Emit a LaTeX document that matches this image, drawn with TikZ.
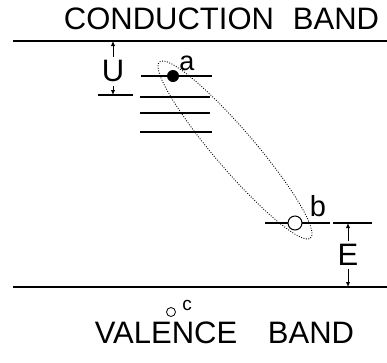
\documentclass[tikz,border=0pt]{standalone}
\usepackage{fontspec}
\setmainfont{Liberation Sans}
\usetikzlibrary{arrows.meta}
\begin{document}
\begin{tikzpicture}[x={(1pt,0)},y={(0,-1pt)},
  band/.style={line width=1.3pt},
  level/.style={line width=1.6pt},
  dimarrow/.style={line width=1pt,-{Latex[length=5pt,width=4.5pt]}},
  tick/.style={line width=1.1pt},
  orbit/.style={line width=0.9pt,dash pattern=on 0.9pt off 1.6pt},
  big/.style={inner sep=0,font=\fontsize{31}{31}\selectfont},
  lab/.style={inner sep=0,font=\fontsize{27}{27}\selectfont},
]
\useasboundingbox (0,0) rectangle (387,362);
% bands
\coordinate (cbL) at (13,41); \coordinate (cbR) at (387,41);
\coordinate (vbL) at (13,287); \coordinate (vbR) at (387,287);
\draw[band] (cbL) -- (cbR);
\draw[band] (vbL) -- (vbR);
\node[big] (cond) at (169,19) {CONDUCTION};
\node[big] (cband) at (336,19) {BAND};
\node[big] (val) at (166,333) {VALENCE};
\node[big] (vband) at (311,333) {BAND};
% U dimension
\coordinate (ut) at (113,41);
\coordinate (ub) at (113,95);
\node[big] (U) at (113,71) {U};
\draw[dimarrow] (U.north) ++(0,-3) coordinate (u1) (u1) -- (ut);
\draw[dimarrow] (U.south) ++(0,4) coordinate (u2) (u2) -- (ub);
\coordinate (ubL) at (98,95); \coordinate (ubR) at (133,95);
\draw[tick] (ubL) -- (ubR);
% levels
\coordinate (l1a) at (141,76); \coordinate (l1b) at (212,76);
\coordinate (l2a) at (140,97); \coordinate (l2b) at (210,97);
\coordinate (l3a) at (140,113); \coordinate (l3b) at (210,113);
\coordinate (l4a) at (140,132); \coordinate (l4b) at (212,132);
\draw[level] (l1a) -- (l1b);
\draw[level] (l2a) -- (l2b);
\draw[level] (l3a) -- (l3b);
\draw[level] (l4a) -- (l4b);
\coordinate (lba) at (265,223); \coordinate (lbb) at (330,223);
\draw[level] (lba) -- (lbb);
% E dimension
\coordinate (etL) at (333,223); \coordinate (etR) at (372,223);
\draw[tick] (etL) -- (etR);
\node[big] (E) at (348,255) {E};
\coordinate (et) at (348,223);
\coordinate (eb) at (348,287);
\draw[dimarrow] (E.north) ++(0,-3) coordinate (e1) (e1) -- (et);
\draw[dimarrow] (E.south) ++(0,3) coordinate (e2) (e2) -- (eb);
% orbit
\coordinate (oc) at (235,150);
\draw[orbit, rotate around={-49.4:(oc)}] (oc) ellipse [x radius=116pt, y radius=20pt];
% particles
\node[circle,fill=black,inner sep=0,minimum size=12pt] (a) at (173,76) {};
\node[circle,draw=black,fill=white,line width=1pt,inner sep=0,minimum size=14pt] (b) at (295,223) {};
\node[circle,draw=black,line width=0.8pt,inner sep=0,minimum size=9pt] (c) at (171,312) {};
\node[lab] (la) at (187,63) {a};
\node[lab,font=\fontsize{29}{29}\selectfont] (lb) at (318,206) {b};
\node[lab,font=\fontsize{19}{19}\selectfont] (lc) at (187,305) {c};
\end{tikzpicture}
\end{document}
